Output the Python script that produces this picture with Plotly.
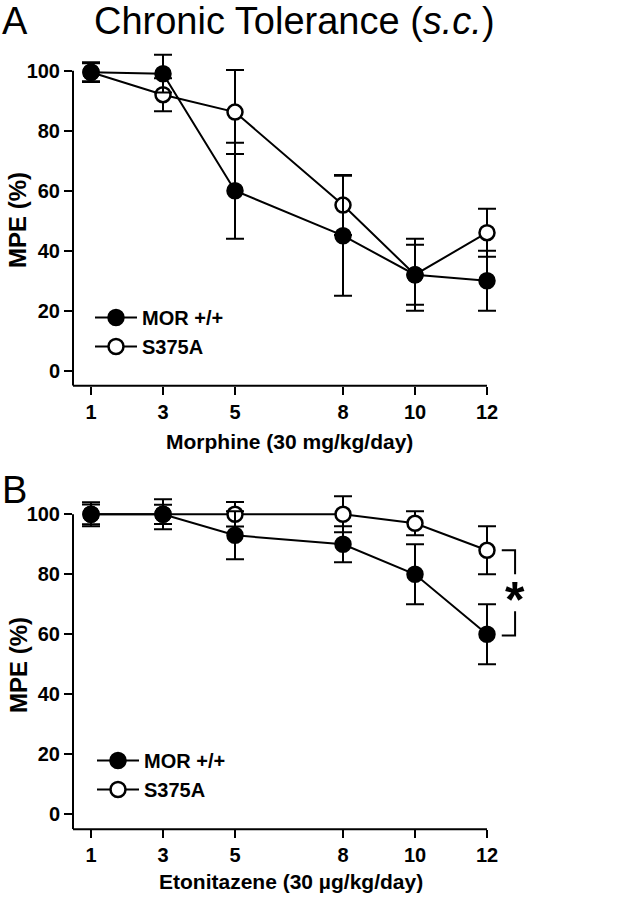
import plotly.graph_objects as go

days = [1, 3, 5, 8, 10, 12]
tick_labels = ["1", "3", "5", "8", "10", "12"]
y_ticks = [0, 20, 40, 60, 80, 100]

# Panel A: Morphine
a_mor = [99.5, 99, 60, 45, 32, 30]
a_mor_err = [3.3, 6.3, 16, 20, 12, 10]
a_s375a = [99.5, 92, 86.2, 55.2, 32, 46]
a_s375a_err = [3, 5.5, 14, 10, 10, 8]

# Panel B: Etonitazene
b_mor = [100, 100, 93, 90, 80, 60]
b_mor_err = [4, 5, 8, 6, 10, 10]
b_s375a = [100, 100, 100, 100, 97, 88]
b_s375a_err = [3.3, 3.2, 4.1, 6, 4, 8]

FONT = "Liberation Sans, Arial, sans-serif"
W, H = 626, 899

fig = go.Figure()

def add_series(y, err, name, filled, xa, ya, legend, rank):
    fig.add_trace(go.Scatter(
        x=days, y=y, name=name, mode="lines+markers",
        xaxis=xa, yaxis=ya, legend=legend, legendrank=rank,
        line=dict(color="black", width=2),
        marker=dict(size=15, symbol="circle",
                    color="black" if filled else "white",
                    line=dict(color="black", width=2.5)),
        error_y=dict(type="data", array=err, visible=True,
                     color="black", thickness=2, width=9),
        cliponaxis=False,
    ))

# open symbols first so filled sit on top
add_series(a_s375a, a_s375a_err, "S375A", False, "x", "y", "legend", 2)
add_series(a_mor, a_mor_err, "MOR +/+", True, "x", "y", "legend", 1)
add_series(b_s375a, b_s375a_err, "S375A", False, "x2", "y2", "legend2", 2)
add_series(b_mor, b_mor_err, "MOR +/+", True, "x2", "y2", "legend2", 1)

xdom = [73 / W, 523 / W]
ydomA = [(H - 385.7) / H, (H - 40.7) / H]
ydomB = [(H - 829.3) / H, (H - 484.3) / H]

tickfont = dict(family=FONT, size=20, color="black", weight="bold")

def xax(anchor):
    return dict(domain=xdom, range=[0.5, 13], anchor=anchor,
                tickmode="array", tickvals=days, ticktext=tick_labels,
                ticks="outside", ticklen=8, tickwidth=2, tickcolor="black",
                showline=False, showgrid=False, zeroline=False,
                tickfont=tickfont, fixedrange=True)

def yax(dom, anchor):
    return dict(domain=dom, range=[-5, 110], anchor=anchor,
                tickmode="array", tickvals=y_ticks,
                ticks="outside", ticklen=8, tickwidth=2, tickcolor="black",
                showline=False, showgrid=False, zeroline=False,
                tickfont=tickfont, fixedrange=True)

shapes = [
    dict(type="line", xref="x", yref="paper", x0=0.5, x1=12,
         y0=ydomA[0], y1=ydomA[0], line=dict(color="black", width=2)),
    dict(type="line", xref="paper", yref="y", x0=xdom[0], x1=xdom[0],
         y0=-5, y1=100, line=dict(color="black", width=2)),
    dict(type="line", xref="x2", yref="paper", x0=0.5, x1=12,
         y0=ydomB[0], y1=ydomB[0], line=dict(color="black", width=2)),
    dict(type="line", xref="paper", yref="y2", x0=xdom[0], x1=xdom[0],
         y0=-5, y1=100, line=dict(color="black", width=2)),
    dict(type="path", xref="x2", yref="y2",
         path="M 12.41,88 L 12.78,88 L 12.78,80",
         line=dict(color="black", width=2)),
    dict(type="path", xref="x2", yref="y2",
         path="M 12.78,67.7 L 12.78,59.6 L 12.41,59.6",
         line=dict(color="black", width=2)),
]

def pp(px):
    return 1 - px / H

xlab = dict(family=FONT, size=21, color="black", weight="bold")
ylab = dict(family=FONT, size=24, color="black", weight="bold")
big = dict(family=FONT, size=38, color="black")
annotations = [
    dict(text="Chronic Tolerance (<i>s.c.</i>)", x=294 / W, y=1,
         xref="paper", yref="paper", showarrow=False, xanchor="center",
         yanchor="top", yshift=2, font=big),
    dict(text="A", x=0, y=1, xref="paper", yref="paper",
         showarrow=False, xanchor="left", yanchor="top", yshift=2, font=big),
    dict(text="B", x=0, y=pp(467), xref="paper", yref="paper",
         showarrow=False, xanchor="left", yanchor="top", font=big),
    dict(text="MPE (%)", x=18 / W, y=pp(220), xref="paper", yref="paper",
         showarrow=False, textangle=-90, xanchor="center", yanchor="middle",
         font=ylab),
    dict(text="MPE (%)", x=18 / W, y=pp(665), xref="paper", yref="paper",
         showarrow=False, textangle=-90, xanchor="center", yanchor="middle",
         font=ylab),
    dict(text="Morphine (30 mg/kg/day)", x=289 / W, y=pp(441),
         xref="paper", yref="paper", showarrow=False, xanchor="center",
         yanchor="middle", font=xlab),
    dict(text="Etonitazene (30 µg/kg/day)", x=291 / W, y=pp(881),
         xref="paper", yref="paper", showarrow=False, xanchor="center",
         yanchor="middle", font=xlab),
    dict(text="*", x=12.78, y=73.5, xref="x2", yref="y2", showarrow=False,
         xanchor="center", yanchor="middle", yshift=-6,
         font=dict(family=FONT, size=50, color="black", weight="bold")),
]

legfont = dict(family=FONT, size=20, color="black", weight="bold")
fig.update_layout(
    width=W, height=H,
    margin=dict(l=0, r=0, t=0, b=0),
    paper_bgcolor="white", plot_bgcolor="white",
    xaxis=xax("y"), yaxis=yax(ydomA, "x"),
    xaxis2=xax("y2"), yaxis2=yax(ydomB, "x2"),
    shapes=shapes, annotations=annotations,
    legend=dict(x=90 / W, y=pp(298), xanchor="left", yanchor="top",
                font=legfont, bgcolor="rgba(0,0,0,0)", itemwidth=42,
                tracegroupgap=0),
    legend2=dict(x=92 / W, y=pp(741), xanchor="left", yanchor="top",
                 font=legfont, bgcolor="rgba(0,0,0,0)", itemwidth=42,
                 tracegroupgap=0),
    showlegend=True,
)

fig.write_html("out.html", config={"displayModeBar": False},
               post_script="document.body.style.margin='0px';")
